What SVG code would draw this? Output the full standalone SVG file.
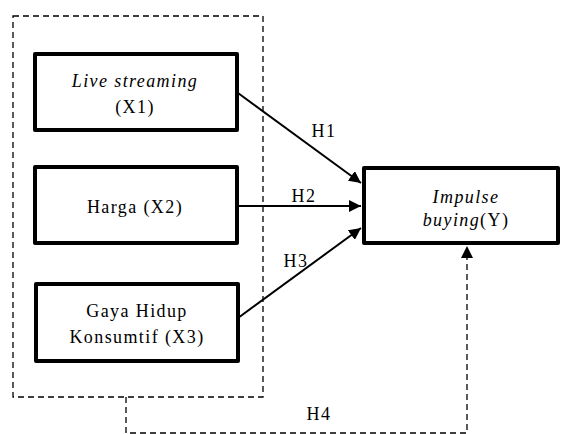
<svg xmlns="http://www.w3.org/2000/svg" width="562" height="434" viewBox="0 0 562 434">
<style>
.box{fill:#fff;stroke:#000;stroke-width:4;stroke-linejoin:round}
.dash{fill:none;stroke:#000;stroke-width:1.3;stroke-dasharray:6 4}
.line{fill:none;stroke:#000;stroke-width:2}
text{font-family:"Liberation Serif","Times New Roman",serif;font-size:18px;fill:#000;text-anchor:middle;letter-spacing:1.4px}
.it{font-style:italic}
</style>
<defs>
<marker id="arr" viewBox="0 0 12 12" refX="12" refY="6" markerWidth="12" markerHeight="12" markerUnits="userSpaceOnUse" orient="auto">
<path d="M0,0 L12,6 L0,12 Z" fill="#000"/>
</marker>
</defs>
<rect x="0" y="0" width="562" height="434" fill="#fff"/>
<rect id="group" class="dash" x="13" y="16" width="250" height="381"/>
<g id="connectors">
<line class="line" x1="238" y1="93" x2="361" y2="183" marker-end="url(#arr)"/>
<line class="line" x1="238" y1="206" x2="361" y2="206" marker-end="url(#arr)"/>
<line class="line" x1="238" y1="318" x2="361" y2="228" marker-end="url(#arr)"/>
<polyline class="dash" points="126,397 126,433 467,433 467,258"/>
<path d="M461,258 L467,246 L473,258 Z" fill="#000"/>
<text x="324" y="137">H1</text>
<text x="304" y="202">H2</text>
<text x="296" y="267">H3</text>
<text x="319" y="420">H4</text>
</g>
<g id="x1">
<rect class="box" x="35" y="54" width="202" height="76"/>
<text class="it" x="135" y="87">Live streaming</text>
<text x="135" y="113">(X1)</text>
</g>
<g id="x2">
<rect class="box" x="35" y="167" width="202" height="76"/>
<text x="135" y="213">Harga (X2)</text>
</g>
<g id="x3">
<rect class="box" x="36" y="284" width="202" height="77"/>
<text x="137" y="317">Gaya Hidup</text>
<text x="137" y="343">Konsumtif (X3)</text>
</g>
<g id="y">
<rect class="box" x="364" y="168" width="194" height="75"/>
<text class="it" x="466" y="203">Impulse</text>
<text x="466" y="226"><tspan class="it">buying</tspan>(Y)</text>
</g>
</svg>
